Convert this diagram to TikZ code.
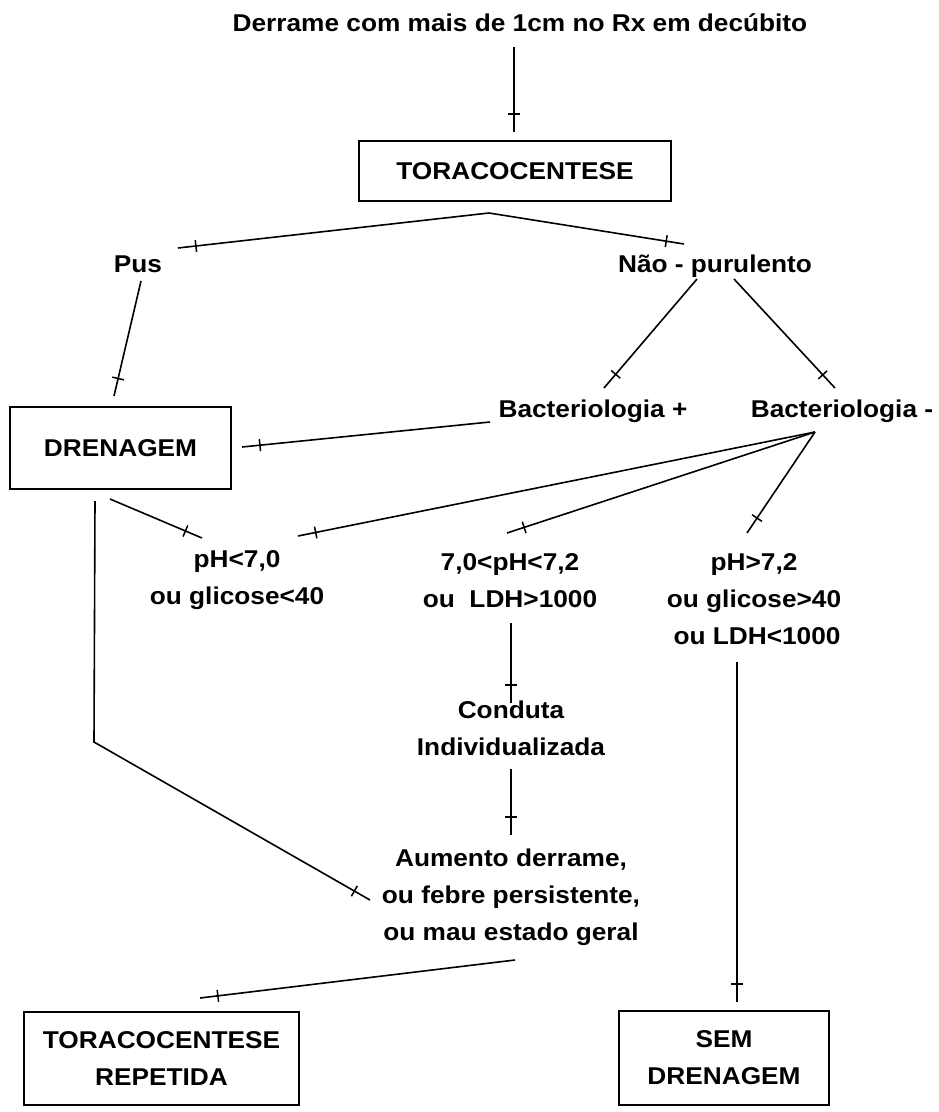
\documentclass[tikz,border=0pt]{standalone}
\usepackage{fontspec}
\usetikzlibrary{decorations.markings}
\newfontfamily\labfont{Liberation Sans}[FakeStretch=1.08]
\newcommand\lbl{\labfont\bfseries\fontsize{24.3pt}{37pt}\selectfont}
\tikzset{
  lab/.style={font=\lbl, inner sep=0pt, align=center},
  box/.style={draw, line width=1.6pt, font=\lbl, align=center, inner sep=0pt},
  conn/.style={line width=1.6pt, postaction={decorate},
    decoration={markings, mark=at position -18pt with {\draw[line width=1.5pt] (0pt,-6pt)--(0pt,6pt);}}},
}
\begin{document}
\begin{tikzpicture}[x=1pt,y=-1pt]
\useasboundingbox[fill=white] (0,0) rectangle (938,1112);

% text nodes
\node[lab, anchor=base] (title) at (520,31) {Derrame com mais de 1cm no Rx em decúbito};
\node[box, minimum width=312pt, minimum height=60pt] (toraco) at (515,171) {TORACOCENTESE};
\node[lab, anchor=base] (pus) at (138,272) {Pus};
\node[lab, anchor=base] (nao) at (715,272) {Não - purulento};
\node[box, minimum width=221pt, minimum height=82pt] (dren) at (120.5,448) {DRENAGEM};
\node[lab, anchor=base] (bplus) at (593,417) {Bacteriologia +};
\node[lab, anchor=base] (bminus) at (842,417) {Bacteriologia -};
\node[lab] (phlow) at (237,580.5) {pH<7,0\\ou glicose<40};
\node[lab] (phmid) at (510,580.5) {7,0<pH<7,2\\ou\ \ LDH>1000};
\node[lab] (phhigh) at (754,599) {pH>7,2\\ou glicose>40\\\hspace*{6pt}ou LDH<1000};
\node[lab] (conduta) at (511,728.5) {Conduta\\Individualizada};
\node[lab] (aumento) at (511,897) {Aumento derrame,\\ou febre persistente,\\ou mau estado geral};
\node[box, minimum width=275pt, minimum height=93pt] (rep) at (161.5,1058.5) {TORACOCENTESE\\REPETIDA};
\node[box, minimum width=210pt, minimum height=94pt] (sem) at (724,1058) {SEM\\DRENAGEM};

% connector end points
\coordinate (titleout) at (514,47);
\coordinate (torain) at (514,132);
\coordinate (apex) at (489,213);
\coordinate (pusin) at (178,248);
\coordinate (naoin) at (684,244);
\coordinate (pusout) at (141,281);
\coordinate (drenin) at (114,396);
\coordinate (naoL) at (697,279);
\coordinate (naoR) at (734,279);
\coordinate (bplusin) at (604,388);
\coordinate (bminusin) at (835,388);
\coordinate (bplusout) at (490,422);
\coordinate (drenR) at (242,447);
\coordinate (bapex) at (815,432);
\coordinate (phlowin) at (298,536);
\coordinate (phmidin) at (507,533);
\coordinate (phhighin) at (747,533);
\coordinate (drenout) at (110,499);
\coordinate (phlowinB) at (202,538);
\coordinate (phmidout) at (511,623);
\coordinate (condin) at (511,703);
\coordinate (condout) at (511,769);
\coordinate (aumin) at (511,835);
\coordinate (drendown) at (95,501);
\coordinate (corner) at (94,742);
\coordinate (aumleft) at (370,900);
\coordinate (aumout) at (515,960);
\coordinate (repin) at (200,998);
\coordinate (phhighout) at (737,662);
\coordinate (semin) at (737,1002);

% connectors
\draw[conn] (titleout) -- (torain);
\draw[conn] (apex) -- (pusin);
\draw[conn] (apex) -- (naoin);
\draw[conn] (pusout) -- (drenin);
\draw[conn] (naoL) -- (bplusin);
\draw[conn] (naoR) -- (bminusin);
\draw[conn] (bplusout) -- (drenR);
\draw[conn] (bapex) -- (phlowin);
\draw[conn] (bapex) -- (phmidin);
\draw[conn] (bapex) -- (phhighin);
\draw[conn] (drenout) -- (phlowinB);
\draw[conn] (phmidout) -- (condin);
\draw[conn] (condout) -- (aumin);
\draw[conn] (drendown) -- (corner) -- (aumleft);
\draw[conn] (aumout) -- (repin);
\draw[conn] (phhighout) -- (semin);
\end{tikzpicture}
\end{document}
